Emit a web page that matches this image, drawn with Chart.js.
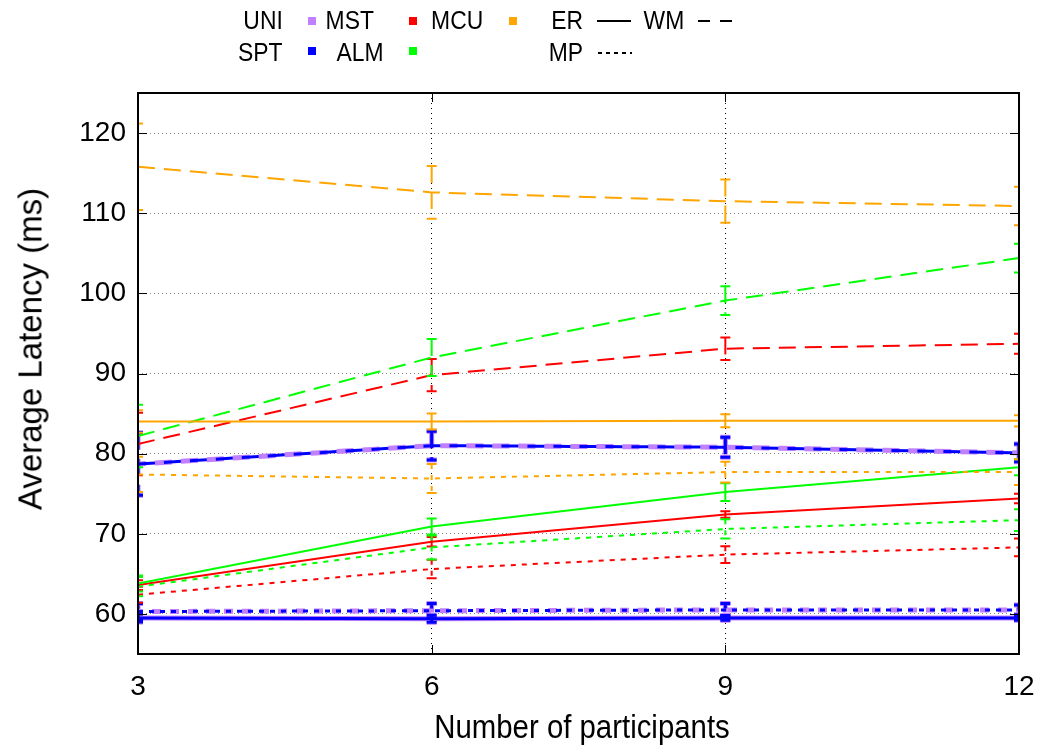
<!DOCTYPE html>
<html>
<head>
<meta charset="utf-8">
<script src="https://cdn.jsdelivr.net/npm/chart.js@4.4.1/dist/chart.umd.min.js"></script>
<style>
  html, body { margin: 0; padding: 0; background: #fff; }
  #wrap { position: relative; width: 1039px; height: 746px; font-family: "Liberation Sans", Arial, sans-serif; }
  #c { position: absolute; left: 0; top: 0; }
  .t { position: absolute; font-size: 26px; color: #000; white-space: nowrap; line-height: 1; }
  .sq { position: absolute; width: 8px; height: 8px; }
  svg.smp { position: absolute; overflow: visible; }
</style>
</head>
<body>
<div id="wrap">
  <canvas id="c" width="1039" height="746"></canvas>
</div>
<script>
// ---- data ----
const participants = [3, 6, 9, 12];
const yTickValues = [60, 70, 80, 90, 100, 110, 120];

const groups = ["UNI", "SPT", "MST", "ALM", "MCU"];
const modes = ["ER", "WM", "MP"];

// SPT (blue)
const sptER = [59.5, 59.4, 59.5, 59.5];
const sptERErr = [0.5, 0.45, 0.3, 0.3];
const sptWM = [78.7, 81.0, 80.8, 80.1];
const sptWMErr = [3.9, 1.8, 1.25, 1.1];
const sptMP = [60.3, 60.4, 60.5, 60.5];
const sptMPErr = [1.0, 0.9, 0.8, 0.6];

// UNI (purple)
const uniER = [59.5, 59.4, 59.5, 59.5];
const uniERErr = [0.5, 0.45, 0.3, 0.3];
const uniWM = [78.7, 81.0, 80.8, 80.1];
const uniWMErr = [3.9, 1.8, 1.25, 1.1];
const uniMP = [60.3, 60.4, 60.5, 60.5];
const uniMPErr = [1.0, 0.9, 0.8, 0.6];

// MST (red)
const mstER = [63.6, 69.0, 72.4, 74.4];
const mstERErr = [0.6, 0.6, 0.4, 0.6];
const mstWM = [81.2, 89.8, 93.1, 93.7];
const mstWMErr = [3.9, 2.0, 1.4, 1.25];
const mstMP = [62.4, 65.6, 67.4, 68.3];
const mstMPErr = [1.0, 1.15, 1.05, 1.1];

// ALM (green)
const almER = [63.8, 70.9, 75.2, 78.3];
const almERErr = [1.0, 1.0, 1.1, 1.0];
const almWM = [82.2, 92.0, 99.1, 104.4];
const almWMErr = [3.9, 2.3, 1.8, 1.8];
const almMP = [63.4, 68.3, 70.6, 71.7];
const almMPErr = [1.2, 1.5, 1.2, 1.35];

// MCU (orange)
const mcuER = [84.0, 84.0, 84.1, 84.1];
const mcuERErr = [1.4, 1.0, 0.8, 0.7];
const mcuWM = [115.8, 112.6, 111.5, 110.9];
const mcuWMErr = [5.4, 3.3, 2.7, 2.4];
const mcuMP = [77.4, 76.9, 77.7, 77.7];
const mcuMPErr = [2.2, 1.8, 1.3, 1.6];

// ---- styles ----
const FONT = "'Liberation Sans', Arial, sans-serif";
const colors = { UNI: "#c080ff", SPT: "#0000ff", MST: "#ff0000", ALM: "#00ff00", MCU: "#ffa500" };
const dashes = { ER: [], WM: [17, 9], MP: [5, 6] };

function pts(vals) { return participants.map((x, i) => ({ x: x, y: vals[i] })); }
function mk(group, mode, vals, errs, extra) {
  return Object.assign({
    label: group + " " + mode,
    data: pts(vals),
    errs: errs,
    borderColor: colors[group],
    backgroundColor: colors[group],
    borderWidth: 2,
    borderDash: dashes[mode],
    pointRadius: 0,
    tension: 0,
    fill: false,
    errWidth: 2
  }, extra || {});
}

// first dataset drawn on top
const datasets = [
  mk("MCU", "WM", mcuWM, mcuWMErr),
  mk("MCU", "ER", mcuER, mcuERErr),
  mk("MCU", "MP", mcuMP, mcuMPErr),
  mk("ALM", "WM", almWM, almWMErr),
  mk("ALM", "ER", almER, almERErr),
  mk("ALM", "MP", almMP, almMPErr),
  mk("MST", "WM", mstWM, mstWMErr),
  mk("MST", "ER", mstER, mstERErr),
  mk("MST", "MP", mstMP, mstMPErr),
  mk("SPT", "WM", sptWM, sptWMErr, { borderWidth: 3, errWidth: 3 }),
  mk("SPT", "ER", sptER, sptERErr, { borderWidth: 3, errWidth: 3 }),
  mk("SPT", "MP", sptMP, sptMPErr, { borderWidth: 3, errWidth: 3 }),
  mk("UNI", "WM", uniWM, uniWMErr, { borderWidth: 5, errWidth: 5, borderDashOffset: 9 }),
  mk("UNI", "ER", uniER, uniERErr, { borderWidth: 5, errWidth: 5 }),
  mk("UNI", "MP", uniMP, uniMPErr, { borderWidth: 5, errWidth: 5, borderDash: [9, 9], borderDashOffset: 4 })
];

const errorBars = {
  id: "errorBars",
  afterDatasetDraw(chart, args) {
    const ds = chart.data.datasets[args.index];
    if (!ds.errs) return;
    const ctx = chart.ctx, xs = chart.scales.x, ys = chart.scales.y, a = chart.chartArea;
    ctx.save();
    ctx.beginPath();
    ctx.rect(a.left, a.top, a.right - a.left, a.bottom - a.top);
    ctx.clip();
    ctx.strokeStyle = ds.borderColor;
    ctx.lineWidth = ds.errWidth;
    ds.data.forEach((p, i) => {
      const e = ds.errs[i];
      const px = xs.getPixelForValue(p.x);
      const y1 = ys.getPixelForValue(p.y + e);
      const y2 = ys.getPixelForValue(p.y - e);
      ctx.setLineDash(ds.borderDash || []);
      ctx.beginPath();
      ctx.moveTo(px, y1); ctx.lineTo(px, y2);
      ctx.stroke();
      ctx.setLineDash([]);
      ctx.beginPath();
      ctx.moveTo(px - 5, y1); ctx.lineTo(px + 5, y1);
      ctx.moveTo(px - 5, y2); ctx.lineTo(px + 5, y2);
      ctx.stroke();
    });
    ctx.restore();
  }
};

const frame = {
  id: "frame",
  afterDraw(chart) {
    const ctx = chart.ctx, a = chart.chartArea, xs = chart.scales.x, ys = chart.scales.y;
    ctx.save();
    ctx.strokeStyle = "#000";
    ctx.lineWidth = 1;
    ctx.beginPath();
    yTickValues.forEach(v => {
      const py = Math.round(ys.getPixelForValue(v)) + 0.5;
      ctx.moveTo(a.left, py); ctx.lineTo(a.left + 9, py);
      ctx.moveTo(a.right, py); ctx.lineTo(a.right - 9, py);
    });
    participants.forEach(v => {
      const px = Math.round(xs.getPixelForValue(v)) + 0.5;
      ctx.moveTo(px, a.bottom); ctx.lineTo(px, a.bottom - 9);
      ctx.moveTo(px, a.top); ctx.lineTo(px, a.top + 9);
    });
    ctx.stroke();
    ctx.lineWidth = 2;
    ctx.strokeRect(a.left, a.top, a.right - a.left, a.bottom - a.top);
    ctx.restore();
  }
};

new Chart(document.getElementById("c"), {
  type: "line",
  data: { datasets: datasets },
  plugins: [errorBars, frame],
  options: {
    responsive: false,
    animation: false,
    events: [],
    layout: { padding: { left: 0, top: 93, right: 20, bottom: 0 } },
    plugins: { legend: { display: false }, tooltip: { enabled: false } },
    scales: {
      x: {
        type: "linear",
        min: 3, max: 12,
        afterBuildTicks(s) { s.ticks = participants.map(v => ({ value: v })); },
        afterFit(s) { s.height = 92; s.paddingLeft = 0; s.paddingRight = 0; },
        ticks: { font: { family: FONT, size: 28 }, color: "#000", padding: 16, maxRotation: 0 },
        grid: { color: "#000", lineWidth: 1, drawTicks: false },
        border: { display: false, dash: [1, 4] }
      },
      y: {
        type: "linear",
        min: 55, max: 125,
        afterBuildTicks(s) { s.ticks = yTickValues.map(v => ({ value: v })); },
        afterFit(s) { s.width = 138; s.paddingTop = 0; s.paddingBottom = 0; },
        ticks: { font: { family: FONT, size: 28 }, color: "#000", padding: 12 },
        grid: { color: "#888", lineWidth: 1, drawTicks: false },
        border: { display: false, dash: [1, 3] }
      }
    }
  }
});

// ---- gnuplot-style key and axis titles (HTML text) ----
const wrap = document.getElementById("wrap");
function txt(s, x, y, align) {
  const d = document.createElement("div");
  d.className = "t"; d.textContent = s;
  d.style.top = y + "px";
  if (align === "right") {
    d.style.right = (1039 - x) + "px";
    d.style.transformOrigin = "right center";
    d.style.transform = "scaleX(0.88)";
  } else { d.style.left = x + "px"; }
  wrap.appendChild(d); return d;
}
function sq(color, x, y) {
  const d = document.createElement("div");
  d.className = "sq"; d.style.background = color; d.style.left = x + "px"; d.style.top = y + "px";
  wrap.appendChild(d);
}
function smp(dash, x, y) {
  const ns = "http://www.w3.org/2000/svg";
  const s = document.createElementNS(ns, "svg");
  s.setAttribute("class", "smp"); s.setAttribute("width", "34"); s.setAttribute("height", "4");
  s.style.left = x + "px"; s.style.top = (y - 2) + "px";
  const l = document.createElementNS(ns, "line");
  l.setAttribute("x1", "0"); l.setAttribute("y1", "2"); l.setAttribute("x2", "34"); l.setAttribute("y2", "2");
  l.setAttribute("stroke", "#000"); l.setAttribute("stroke-width", "2");
  if (dash.length) l.setAttribute("stroke-dasharray", dash.join(" "));
  s.appendChild(l); wrap.appendChild(s);
}
// row 1
txt(groups[0], 283, 7, "right"); sq(colors.UNI, 308, 17);
txt(groups[2], 374, 7, "right"); sq(colors.MST, 409, 17);
txt(groups[4], 483, 7, "right"); sq(colors.MCU, 509, 17);
txt(modes[0], 583, 7, "right"); smp(dashes.ER, 597, 21);
txt(modes[1], 684, 7, "right"); smp([12, 10], 698, 21);
// row 2
txt(groups[1], 283, 39, "right"); sq(colors.SPT, 308, 47);
txt(groups[3], 383, 39, "right"); sq(colors.ALM, 409, 47);
txt(modes[2], 583, 39, "right"); smp([4, 4], 598, 53);

const xt = txt("Number of participants", 0, 710);
xt.style.left = "582px"; xt.style.fontSize = "33px"; xt.style.transform = "translateX(-50%) scaleX(0.89)";
const yt = txt("Average Latency (ms)", 0, 0);
yt.style.left = "30px"; yt.style.top = "349px"; yt.style.fontSize = "33px";
yt.style.transform = "translate(-50%, -50%) rotate(-90deg)";
</script>
</body>
</html>
